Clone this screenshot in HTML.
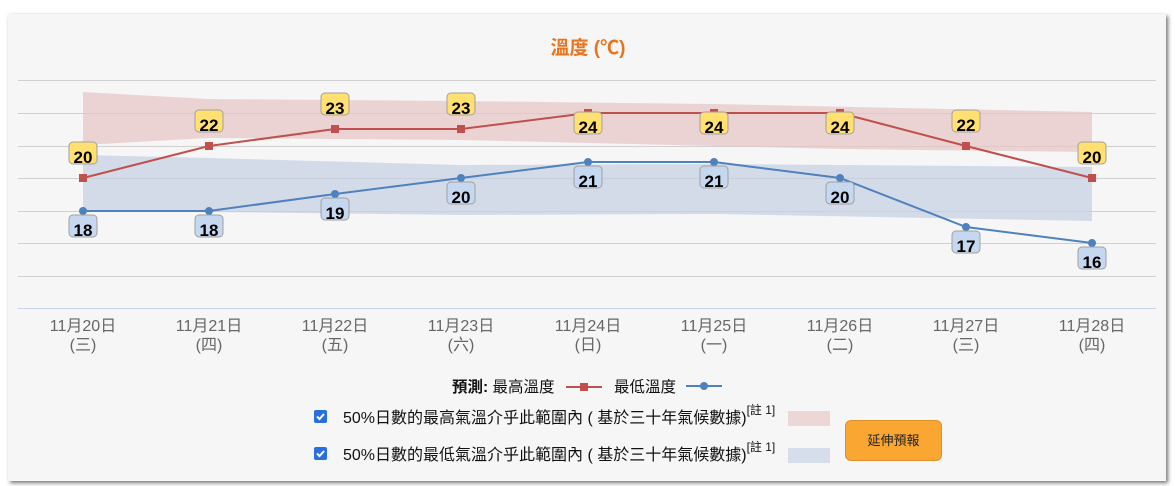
<!DOCTYPE html>
<html><head><meta charset="utf-8"><style>
body{margin:0;width:1175px;height:486px;background:#fff;overflow:hidden;font-family:"Liberation Sans","Noto Sans CJK TC",sans-serif}
.card{position:absolute;left:8px;top:14px;width:1158px;height:467px;background:#f6f6f6;box-shadow:2px 2px 4px rgba(0,0,0,.55)}
svg{position:absolute;left:0;top:0}
.btn{position:absolute;left:845px;top:420px;width:97px;height:41px;background:#f9a633;border:1px solid #e0902a;border-radius:6px;box-sizing:border-box;font-size:13px;color:#222;text-align:center;line-height:40px}
</style></head><body>
<div class="card"></div>
<svg width="1175" height="486" font-family="Liberation Sans, Noto Sans CJK TC, sans-serif">
<text x="588" y="54" text-anchor="middle" font-size="19" font-weight="bold" fill="#e8741c">溫度 (℃)</text>
<g stroke="#d0d0d0" stroke-width="1">
<line x1="18" x2="1156" y1="80.5" y2="80.5"/><line x1="18" x2="1156" y1="113.5" y2="113.5"/><line x1="18" x2="1156" y1="146.5" y2="146.5"/><line x1="18" x2="1156" y1="178.5" y2="178.5"/><line x1="18" x2="1156" y1="211.5" y2="211.5"/><line x1="18" x2="1156" y1="243.5" y2="243.5"/><line x1="18" x2="1156" y1="276.5" y2="276.5"/>
</g>
<line x1="18" x2="1156" y1="308.5" y2="308.5" stroke="#c8d4ee"/>
<polygon points="83,92 209,99 461,101 714,104 1092,112 1092,152 840,149 461,140 209,138 83,145" fill="#e8c4c4" fill-opacity="0.7"/>
<polygon points="83,155 209,158 461,165 714,164 1092,167 1092,221 714,214 461,215 209,212 83,211" fill="#c4d0e4" fill-opacity="0.7"/>
<polyline points="83,178 209,146 335,129 461,129 588,113 714,113 840,113 966,146 1092,178" fill="none" stroke="#c0504d" stroke-width="2"/>
<g fill="#c0504d"><rect x="79" y="174" width="8" height="8"/><rect x="205" y="142" width="8" height="8"/><rect x="331" y="125" width="8" height="8"/><rect x="457" y="125" width="8" height="8"/><rect x="584" y="109" width="8" height="8"/><rect x="710" y="109" width="8" height="8"/><rect x="836" y="109" width="8" height="8"/><rect x="962" y="142" width="8" height="8"/><rect x="1088" y="174" width="8" height="8"/></g>
<polyline points="83,211 209,211 335,194 461,178 588,162 714,162 840,178 966,227 1092,243" fill="none" stroke="#4f81bd" stroke-width="2"/>
<g fill="#4f81bd"><circle cx="83" cy="211" r="4"/><circle cx="209" cy="211" r="4"/><circle cx="335" cy="194" r="4"/><circle cx="461" cy="178" r="4"/><circle cx="588" cy="162" r="4"/><circle cx="714" cy="162" r="4"/><circle cx="840" cy="178" r="4"/><circle cx="966" cy="227" r="4"/><circle cx="1092" cy="243" r="4"/></g>
<g stroke="#a0a0a0" stroke-width="1" fill="#ffe070">
<rect x="69" y="142" width="28" height="22" rx="4"/><rect x="195" y="110" width="28" height="22" rx="4"/><rect x="321" y="93" width="28" height="22" rx="4"/><rect x="447" y="93" width="28" height="22" rx="4"/><rect x="574" y="112" width="28" height="22" rx="4"/><rect x="700" y="112" width="28" height="22" rx="4"/><rect x="826" y="112" width="28" height="22" rx="4"/><rect x="952" y="110" width="28" height="22" rx="4"/><rect x="1078" y="142" width="28" height="22" rx="4"/>
</g>
<g stroke="#a0a0a0" stroke-width="1" fill="#c6d8f0">
<rect x="69" y="215" width="28" height="22" rx="4"/><rect x="195" y="215" width="28" height="22" rx="4"/><rect x="321" y="198" width="28" height="22" rx="4"/><rect x="447" y="182" width="28" height="22" rx="4"/><rect x="574" y="166" width="28" height="22" rx="4"/><rect x="700" y="166" width="28" height="22" rx="4"/><rect x="826" y="182" width="28" height="22" rx="4"/><rect x="952" y="231" width="28" height="22" rx="4"/><rect x="1078" y="247" width="28" height="22" rx="4"/>
</g>
<g font-size="17" font-weight="bold" fill="#000" text-anchor="middle">
<text x="83" y="163">20</text><text x="209" y="131">22</text><text x="335" y="114">23</text><text x="461" y="114">23</text><text x="588" y="133">24</text><text x="714" y="133">24</text><text x="840" y="133">24</text><text x="966" y="131">22</text><text x="1092" y="163">20</text>
<text x="83" y="236">18</text><text x="209" y="236">18</text><text x="335" y="219">19</text><text x="461" y="203">20</text><text x="588" y="187">21</text><text x="714" y="187">21</text><text x="840" y="203">20</text><text x="966" y="252">17</text><text x="1092" y="268">16</text>
</g>
<g font-size="16" fill="#666" text-anchor="middle">
<text x="83" y="331">11月20日</text><text x="83" y="350">(三)</text>
<text x="209" y="331">11月21日</text><text x="209" y="350">(四)</text>
<text x="335" y="331">11月22日</text><text x="335" y="350">(五)</text>
<text x="461" y="331">11月23日</text><text x="461" y="350">(六)</text>
<text x="588" y="331">11月24日</text><text x="588" y="350">(日)</text>
<text x="714" y="331">11月25日</text><text x="714" y="350">(一)</text>
<text x="840" y="331">11月26日</text><text x="840" y="350">(二)</text>
<text x="966" y="331">11月27日</text><text x="966" y="350">(三)</text>
<text x="1092" y="331">11月28日</text><text x="1092" y="350">(四)</text>
</g>
<text x="452" y="392" font-size="15.5" fill="#111"><tspan font-weight="bold">預測:</tspan> 最高溫度</text>
<line x1="566" x2="602" y1="387" y2="387" stroke="#c0504d" stroke-width="2"/><rect x="580" y="383" width="8" height="8" fill="#c0504d"/>
<text x="614" y="392" font-size="15.5" fill="#111">最低溫度</text>
<line x1="686" x2="722" y1="386" y2="386" stroke="#4f81bd" stroke-width="2"/><circle cx="704" cy="386" r="4" fill="#4f81bd"/>
<rect x="314" y="410" width="13" height="13" rx="2" fill="#2a6fe0"/><path d="M317 416.5l2.5 2.5 4.5-5" stroke="#fff" stroke-width="2" fill="none"/>
<rect x="314" y="447" width="13" height="13" rx="2" fill="#2a6fe0"/><path d="M317 453.5l2.5 2.5 4.5-5" stroke="#fff" stroke-width="2" fill="none"/>
<text x="343" y="423" font-size="16" fill="#111">50%日數的最高氣溫介乎此範圍內 ( 基於三十年氣候數據)<tspan font-size="12" dy="-9">[註 1]</tspan></text>
<text x="343" y="460" font-size="16" fill="#111">50%日數的最低氣溫介乎此範圍內 ( 基於三十年氣候數據)<tspan font-size="12" dy="-9">[註 1]</tspan></text>
<rect x="788" y="411" width="42" height="15" fill="#ecd6d6"/>
<rect x="788" y="448" width="42" height="15" fill="#d6deec"/>
</svg>
<div class="btn">延伸預報</div>
</body></html>
